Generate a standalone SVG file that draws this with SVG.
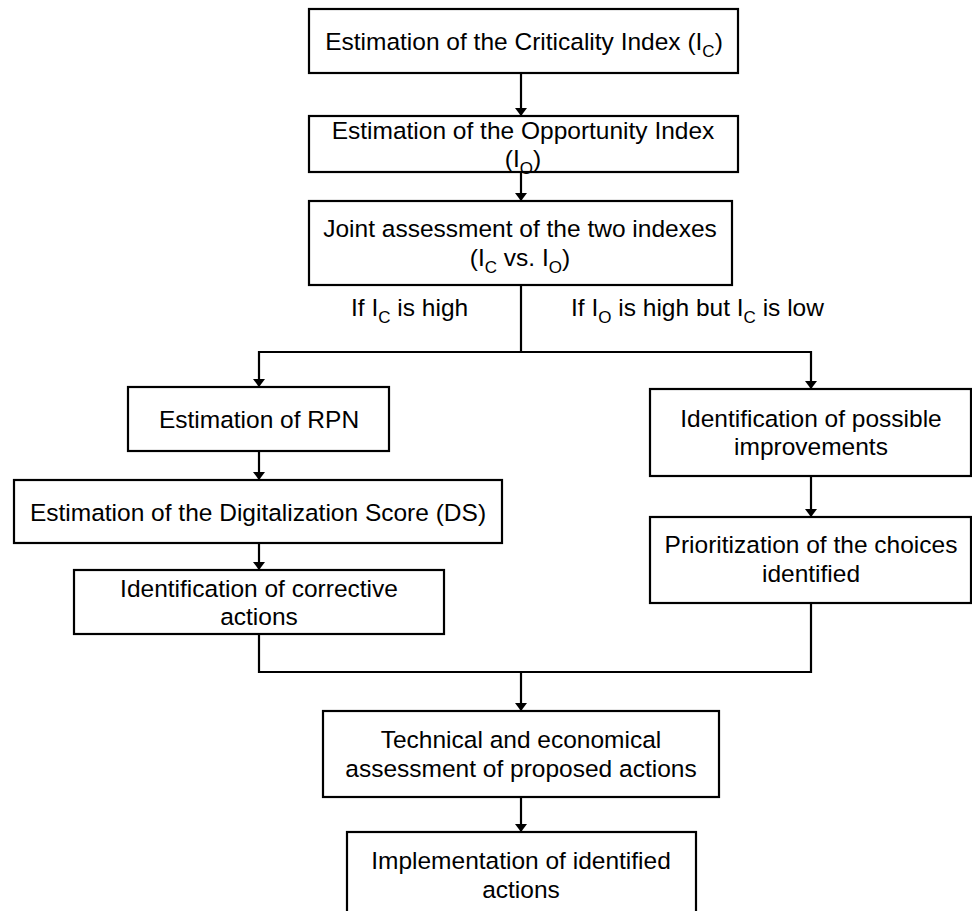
<svg xmlns="http://www.w3.org/2000/svg" width="972" height="911" viewBox="0 0 972 911">
<style>
.box{fill:#fff;stroke:#000;stroke-width:2.2}
.t{font-family:"Liberation Sans",Arial,sans-serif;font-size:24.5px;fill:#000;text-anchor:middle}
.l{font-family:"Liberation Sans",Arial,sans-serif;font-size:24.5px;fill:#000;text-anchor:start}
.sub{font-size:17px}
.c{fill:none;stroke:#000;stroke-width:2.2}
</style>
<defs>
<marker id="ah" markerWidth="8" markerHeight="12" refX="8" refY="6" orient="auto" markerUnits="userSpaceOnUse"><path d="M0,0 L8,6 L0,12 z" fill="#000"/></marker>
</defs>
<rect x="0" y="0" width="972" height="911" fill="#fff"/>
<g id="connectors">
<path class="c" d="M521,73 V116" marker-end="url(#ah)"/>
<path class="c" d="M521,172 V201" marker-end="url(#ah)"/>
<path class="c" d="M521,285 V352"/>
<path class="c" d="M521,352 H259 V387" marker-end="url(#ah)"/>
<path class="c" d="M521,352 H811 V389" marker-end="url(#ah)"/>
<path class="c" d="M259,451 V480" marker-end="url(#ah)"/>
<path class="c" d="M259,543 V570" marker-end="url(#ah)"/>
<path class="c" d="M811,476 V517" marker-end="url(#ah)"/>
<path class="c" d="M259,634 V672 H811 V603"/>
<path class="c" d="M521,672 V711" marker-end="url(#ah)"/>
<path class="c" d="M521,797 V832" marker-end="url(#ah)"/>
</g>
<g id="labels">
<text class="l" x="351" y="316">If I<tspan class="sub" dy="7">C</tspan><tspan dy="-7"> is high</tspan></text>
<text class="l" x="571" y="316">If I<tspan class="sub" dy="7">O</tspan><tspan dy="-7"> is high but I</tspan><tspan class="sub" dy="7">C</tspan><tspan dy="-7"> is low</tspan></text>
</g>
<g id="n1"><rect class="box" x="309" y="9" width="429" height="64"/>
<text class="t" x="524" y="50">Estimation of the Criticality Index (I<tspan class="sub" dy="7">C</tspan><tspan dy="-7">)</tspan></text></g>
<g id="n2"><rect class="box" x="309" y="116" width="429" height="56"/>
<text class="t" x="523" y="139">Estimation of the Opportunity Index</text>
<text class="t" x="523" y="167">(I<tspan class="sub" dy="7">O</tspan><tspan dy="-7">)</tspan></text></g>
<g id="n3"><rect class="box" x="309" y="201" width="423" height="84"/>
<text class="t" x="520" y="237">Joint assessment of the two indexes</text>
<text class="t" x="520" y="266">(I<tspan class="sub" dy="7">C</tspan><tspan dy="-7"> vs. I</tspan><tspan class="sub" dy="7">O</tspan><tspan dy="-7">)</tspan></text></g>
<g id="n4"><rect class="box" x="128" y="387" width="261" height="64"/>
<text class="t" x="259" y="428">Estimation of RPN</text></g>
<g id="n5"><rect class="box" x="14" y="480" width="488" height="63"/>
<text class="t" x="258" y="521">Estimation of the Digitalization Score (DS)</text></g>
<g id="n6"><rect class="box" x="74" y="570" width="370" height="64"/>
<text class="t" x="259" y="597">Identification of corrective</text>
<text class="t" x="259" y="625">actions</text></g>
<g id="n7"><rect class="box" x="650" y="389" width="321" height="87"/>
<text class="t" x="811" y="427">Identification of possible</text>
<text class="t" x="811" y="455">improvements</text></g>
<g id="n8"><rect class="box" x="650" y="517" width="321" height="86"/>
<text class="t" x="811" y="553">Prioritization of the choices</text>
<text class="t" x="811" y="582">identified</text></g>
<g id="n9"><rect class="box" x="323" y="711" width="396" height="86"/>
<text class="t" x="521" y="748">Technical and economical</text>
<text class="t" x="521" y="777">assessment of proposed actions</text></g>
<g id="n10"><rect class="box" x="347" y="832" width="349" height="90"/>
<text class="t" x="521" y="869">Implementation of identified</text>
<text class="t" x="521" y="898">actions</text></g>
</svg>
